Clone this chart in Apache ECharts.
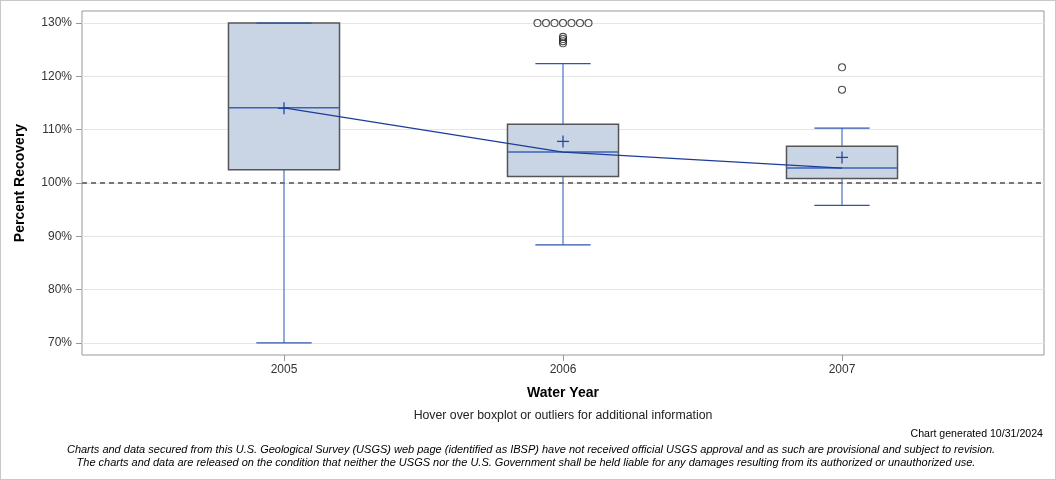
<!DOCTYPE html>
<html>
<head>
<meta charset="utf-8">
<script src="https://cdn.jsdelivr.net/npm/echarts@6/dist/echarts.min.js"></script>
<style>
html,body{margin:0;padding:0;background:#fff;}
#wrap{position:absolute;left:0;top:0;width:1054px;height:478px;border:1px solid #c8c8c8;}
#chart{width:1056px;height:480px;position:absolute;left:0;top:0;}
</style>
</head>
<body>
<div id="wrap"></div>
<div id="chart"></div>
<script>
// ---- data ----
var years = [2005, 2006, 2007];
var whiskerLow = [70.0, 88.4, 95.8];
var q1 = [102.5, 101.2, 100.85];
var median = [114.1, 105.8, 102.8];
var q3 = [130.0, 111.0, 106.9];
var whiskerHigh = [130.0, 122.4, 110.3];
var mean = [114.0, 107.8, 104.8];
var outlierYears = [2006, 2006, 2006, 2006, 2006, 2006, 2006, 2006, 2006, 2006, 2006, 2007, 2007];
var outlierValues = [130, 130, 130, 130, 130, 130, 130, 127.4, 127.0, 126.6, 126.2, 121.7, 117.5];
var yTicks = [70, 80, 90, 100, 110, 120, 130];
var referenceValue = 100;

var boxData = years.map(function (y, i) {
  return [y, whiskerLow[i], q1[i], median[i], q3[i], whiskerHigh[i], mean[i]];
});
// spread identical outliers horizontally (pixel jitter, like the source)
var groups = {};
var outlierData = outlierYears.map(function (y, i) {
  var key = y + '_' + outlierValues[i];
  groups[key] = (groups[key] || 0) + 1;
  return { key: key, idx: groups[key] - 1, value: [y, outlierValues[i]] };
});
outlierData = outlierData.map(function (d) {
  var n = groups[d.key];
  var off = (d.idx - (n - 1) / 2) * 8.5;
  return { value: d.value, symbolOffset: [off, 0] };
});

var chart = echarts.init(document.getElementById('chart'), null, { renderer: 'canvas' });
var font = '"Liberation Sans", Arial, sans-serif';

function renderBox(params, api) {
  var x = api.value(0);
  var lo = api.value(1), a = api.value(2), m = api.value(3), b = api.value(4), hi = api.value(5), mn = api.value(6);
  var halfBox = 0.199, halfCap = 0.099;
  var pL = api.coord([x - halfBox, b]);
  var pR = api.coord([x + halfBox, a]);
  var c = api.coord([x, m]);
  var pLo = api.coord([x, lo]);
  var pHi = api.coord([x, hi]);
  var pA = api.coord([x, a]);
  var pB = api.coord([x, b]);
  var capL = api.coord([x - halfCap, lo])[0];
  var capR = api.coord([x + halfCap, lo])[0];
  var pm = api.coord([x, mn]);
  var wStyle = { stroke: '#4a72c4', lineWidth: 1.2 };
  var children = [
    { type: 'line', shape: { x1: pLo[0], y1: pLo[1], x2: pA[0], y2: pA[1] }, style: wStyle },
    { type: 'line', shape: { x1: pB[0], y1: pB[1], x2: pHi[0], y2: pHi[1] }, style: wStyle },
    { type: 'rect', shape: { x: pL[0], y: pL[1], width: pR[0] - pL[0], height: pR[1] - pL[1] },
      style: { fill: '#c9d5e5', stroke: '#555555', lineWidth: 1.5 } },
    { type: 'line', shape: { x1: capL, y1: pLo[1], x2: capR, y2: pLo[1] }, style: { stroke: '#2c55b0', lineWidth: 1.2 } },
    { type: 'line', shape: { x1: capL, y1: pHi[1], x2: capR, y2: pHi[1] }, style: { stroke: '#2c55b0', lineWidth: 1.2 } },
    { type: 'line', shape: { x1: pL[0], y1: c[1], x2: pR[0], y2: c[1] }, style: { stroke: '#3a62b8', lineWidth: 1.5 } },
    { type: 'line', shape: { x1: pm[0] - 6, y1: pm[1], x2: pm[0] + 6, y2: pm[1] }, style: { stroke: '#2249a3', lineWidth: 1.3 } },
    { type: 'line', shape: { x1: pm[0], y1: pm[1] - 6, x2: pm[0], y2: pm[1] + 6 }, style: { stroke: '#2249a3', lineWidth: 1.3 } }
  ];
  return { type: 'group', children: children };
}

var option = {
  animation: false,
  backgroundColor: 'transparent',
  grid: { left: 82, right: 12, top: 11, bottom: 125, containLabel: false, show: true, borderColor: '#999999', borderWidth: 1 },
  xAxis: {
    type: 'value',
    min: 2004.276,
    max: 2007.724,
    name: 'Water Year',
    nameLocation: 'middle',
    nameGap: 31,
    nameTextStyle: { fontFamily: font, fontWeight: 'bold', fontSize: 14, color: '#000' },
    axisLine: { show: false },
    axisTick: { show: true, customValues: years, length: 6, lineStyle: { color: '#999' } },
    axisLabel: { customValues: years, fontFamily: font, fontSize: 12, color: '#333', margin: 9, formatter: function (v) { return String(v); } },
    splitLine: { show: false }
  },
  yAxis: {
    type: 'value',
    min: 67.74,
    max: 132.26,
    name: 'Percent Recovery',
    nameLocation: 'middle',
    nameGap: 55,
    nameRotate: 90,
    nameTextStyle: { fontFamily: font, fontWeight: 'bold', fontSize: 14, color: '#000' },
    axisLine: { show: false },
    axisTick: { show: true, customValues: yTicks, length: 6, lineStyle: { color: '#999' } },
    axisLabel: { customValues: yTicks, fontFamily: font, fontSize: 12, color: '#333', margin: 10, formatter: function (v) { return v + '%'; } },
    splitLine: { show: true, lineStyle: { color: '#e6e6e6', width: 1 } }
  },
  series: [
    {
      type: 'line',
      data: [[years[0], referenceValue], [years[years.length - 1], referenceValue]],
      showSymbol: false,
      lineStyle: { opacity: 0 },
      silent: true,
      markLine: {
        silent: true,
        symbol: ['none', 'none'],
        label: { show: false },
        lineStyle: { color: '#777777', type: [5, 4], width: 2 },
        data: [{ yAxis: referenceValue }]
      }
    },
    {
      type: 'custom',
      renderItem: renderBox,
      data: boxData,
      encode: { x: 0, y: [1, 2, 3, 4, 5] },
      z: 3
    },
    {
      type: 'line',
      data: years.map(function (y, i) { return [y, median[i]]; }),
      showSymbol: false,
      lineStyle: { color: '#1a3d99', width: 1.2 },
      z: 4
    },
    {
      type: 'scatter',
      data: outlierData,
      symbol: 'circle',
      symbolSize: 7,
      itemStyle: { color: 'rgba(255,255,255,0)', borderColor: '#222', borderWidth: 1.1 },
      z: 5
    }
  ],
  graphic: [
    { type: 'text', x: 563, y: 410, style: { text: 'Hover over boxplot or outliers for additional information', font: '12.3px ' + font, fill: '#222', textAlign: 'center' } },
    { type: 'text', x: 1043, y: 429, style: { text: 'Chart generated 10/31/2024', font: '10.6px ' + font, fill: '#000', textAlign: 'right' } },
    { type: 'text', x: 531, y: 444, style: { text: 'Charts and data secured from this U.S. Geological Survey (USGS) web page (identified as IBSP) have not received official USGS approval and as such are provisional and subject to revision.', font: 'italic 11px ' + font, fill: '#000', textAlign: 'center' } },
    { type: 'text', x: 526, y: 457, style: { text: 'The charts and data are released on the condition that neither the USGS nor the U.S. Government shall be held liable for any damages resulting from its authorized or unauthorized use.', font: 'italic 11px ' + font, fill: '#000', textAlign: 'center' } }
  ]
};
chart.setOption(option);
</script>
</body>
</html>
